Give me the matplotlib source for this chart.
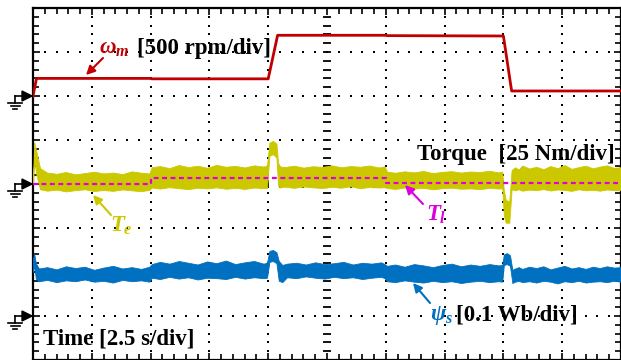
import numpy as np
import matplotlib
matplotlib.use("Agg")
import matplotlib.pyplot as plt
from matplotlib.ticker import MultipleLocator
from matplotlib.lines import Line2D
from matplotlib.patches import Polygon, FancyArrowPatch

plt.rcParams['font.family'] = ['Liberation Serif', 'DejaVu Serif']
plt.rcParams['mathtext.fontset'] = 'custom'
plt.rcParams['mathtext.it'] = 'Liberation Serif:italic:bold'
plt.rcParams['mathtext.rm'] = 'Liberation Serif:bold'
plt.rcParams['mathtext.bf'] = 'Liberation Serif:bold'

# ---------------- data (physical units) ----------------
time_per_div = 2.5        # s/div
speed_per_div = 500.0     # rpm/div
torque_per_div = 25.0     # Nm/div
flux_per_div = 0.1        # Wb/div
speed_ground = 6          # division of channel ground markers
torque_ground = 4
flux_ground = 1

# rotor speed omega_m (rpm)
w_t = [0.0, 0.15, 5.0, 5.05, 10.0, 10.4, 15.0, 15.05, 20.0, 20.35, 25.0]
w_val = [0, 200, 200, 195, 195, 690, 690, 686, 682, 57, 57]

# load torque T_l (Nm)
tl_t = [0.0, 5.0, 5.0, 15.0, 15.0, 25.0]
tl_val = [0.0, 0.0, 3.6, 3.6, 0.7, 0.7]

# electromagnetic torque T_e envelope (Nm)
te_t = [0.0, 0.05, 0.15, 0.3, 0.6, 1.0, 1.4, 1.8, 2.2, 2.6, 3.0, 3.4, 3.8, 4.2, 4.6, 4.95,
        5.05, 5.4, 5.8, 6.2, 6.6, 7.0, 7.4, 7.8, 8.2, 8.6, 9.0, 9.4, 9.8, 9.95,
        10.05, 10.2, 10.35, 10.42, 10.5, 10.7, 11.1, 11.5, 11.9, 12.3, 12.7, 13.1, 13.5, 13.9, 14.3, 14.7, 14.95,
        15.05, 15.4, 15.8, 16.2, 16.6, 17.0, 17.4, 17.8, 18.2, 18.6, 19.0, 19.4, 19.8, 19.95,
        20.02, 20.1, 20.25, 20.35, 20.5, 20.65, 20.8, 21.1, 21.4, 21.7, 22.0, 22.3, 22.6, 22.9, 23.2, 23.5,
        23.8, 24.1, 24.4, 24.7, 25.0]
te_hi = [3, 24, 18, 9, 6.5, 5.8, 6.8, 5.5, 6.2, 7.0, 6.0, 6.5, 5.6, 7.2, 6.4, 6.0,
         9.5, 10.2, 9.0, 10.8, 9.6, 10.4, 9.2, 10.9, 9.8, 10.3, 9.4, 10.6, 9.9, 10.5,
         23.5, 24.5, 23.0, 12, 10.0, 9.6, 10.4, 9.3, 10.1, 9.7, 10.6, 9.5, 10.2, 9.8, 10.5, 9.4, 10.0,
         7.0, 6.4, 7.2, 6.6, 7.4, 6.2, 6.9, 7.3, 6.5, 7.1, 6.8, 7.5, 6.6, 7.0,
         -4, -9, -10, 8, 9.5, 8.2, 10.5, 8.8, 9.8, 8.4, 10.2, 9.0, 10.8, 8.6, 9.6,
         10.4, 8.9, 9.9, 10.6, 9.2, 9.5]
te_lo = [0, 14, 5, -3.0, -3.8, -3.2, -4.2, -3.5, -3.0, -4.0, -3.4, -3.9, -3.1, -3.6, -4.1, -3.3,
         -2.0, -2.6, -1.8, -2.4, -2.9, -2.1, -2.5, -1.9, -2.7, -2.2, -2.8, -2.0, -2.4, -2.3,
         16, 17, 15, -1.0, -2.0, -1.5, -2.2, -1.4, -1.9, -2.3, -1.6, -2.1, -1.3, -2.4, -1.7, -2.0, -1.8,
         -2.3, -2.8, -2.0, -2.6, -2.2, -3.0, -2.4, -2.1, -2.7, -2.5, -2.9, -2.2, -2.6, -2.4,
         -18, -22, -22, -3.0, -3.6, -3.0, -3.8, -3.2, -3.5, -2.9, -3.7, -3.1, -3.4, -3.9, -3.0,
         -3.6, -3.3, -3.8, -3.1, -3.5, -3.4]

# stator flux psi_s envelope (Wb)
psi_t = [0.0, 0.05, 0.12, 0.25, 0.6, 1.0, 1.4, 1.8, 2.2, 2.6, 3.0, 3.4, 3.8, 4.2, 4.6, 4.95,
         5.05, 5.4, 5.8, 6.2, 6.6, 7.0, 7.4, 7.8, 8.2, 8.6, 9.0, 9.4, 9.8, 9.95,
         10.05, 10.2, 10.35, 10.45, 10.6, 10.8, 11.2, 11.6, 12.0, 12.4, 12.8, 13.2, 13.6, 14.0, 14.4, 14.8, 14.95,
         15.05, 15.4, 15.8, 16.2, 16.6, 17.0, 17.4, 17.8, 18.2, 18.6, 19.0, 19.4, 19.8, 19.95,
         20.02, 20.15, 20.28, 20.38, 20.5, 20.65, 20.8, 21.1, 21.4, 21.7, 22.0, 22.3, 22.6, 22.9, 23.2, 23.5,
         23.8, 24.1, 24.4, 24.7, 25.0]
psi_hi = [0.13, 0.142, 0.12, 0.108, 0.111, 0.106, 0.113, 0.109, 0.112, 0.105, 0.110, 0.114, 0.108, 0.111, 0.107, 0.112,
          0.118, 0.123, 0.119, 0.125, 0.121, 0.117, 0.124, 0.120, 0.126, 0.118, 0.122, 0.125, 0.119, 0.121,
          0.148, 0.150, 0.145, 0.125, 0.116, 0.119, 0.121, 0.117, 0.122, 0.118, 0.120, 0.123, 0.117, 0.121, 0.119, 0.122, 0.118,
          0.114, 0.117, 0.112, 0.118, 0.115, 0.111, 0.116, 0.119, 0.113, 0.117, 0.114, 0.118, 0.115, 0.116,
          0.140, 0.143, 0.138, 0.105, 0.108, 0.111, 0.107, 0.112, 0.109, 0.113, 0.106, 0.110, 0.114, 0.108, 0.111,
          0.107, 0.112, 0.109, 0.113, 0.110, 0.111]
psi_lo = [0.10, 0.115, 0.085, 0.079, 0.082, 0.077, 0.081, 0.079, 0.083, 0.078, 0.080, 0.076, 0.082, 0.079, 0.081, 0.078,
          0.087, 0.084, 0.089, 0.085, 0.088, 0.083, 0.087, 0.086, 0.084, 0.089, 0.085, 0.088, 0.086, 0.087,
          0.123, 0.125, 0.120, 0.080, 0.077, 0.088, 0.086, 0.090, 0.087, 0.085, 0.089, 0.086, 0.088, 0.084, 0.087, 0.089, 0.086,
          0.079, 0.077, 0.081, 0.078, 0.076, 0.080, 0.077, 0.079, 0.075, 0.078, 0.080, 0.077, 0.079, 0.078,
          0.116, 0.118, 0.114, 0.075, 0.078, 0.080, 0.077, 0.079, 0.076, 0.080, 0.078, 0.074, 0.079, 0.077, 0.080,
          0.076, 0.078, 0.079, 0.077, 0.080, 0.078]

RED = '#C00000'
YEL = '#CCC800'
MAG = '#DD00DD'
BLUE = '#0070C0'

# ---------------- figure ----------------
W, H = 621, 360
fig = plt.figure(figsize=(W / 100, H / 100), dpi=100)
ax = fig.add_axes([33 / W, 0.0, (W - 33) / W, (H - 8) / H])
n_xdiv, n_ydiv = 10, 8
xmax = n_xdiv * time_per_div
ax.set_xlim(0, xmax)
ax.set_ylim(0, n_ydiv)

def to_div(vals, scale, ground):
    return ground + np.asarray(vals, dtype=float) / scale

# grid dots
xs_dots = np.arange(0, xmax + 1e-9, time_per_div / 5)
for j in range(1, n_ydiv):
    if j == n_ydiv // 2:
        continue
    ax.plot(xs_dots, np.full_like(xs_dots, j), ls='none', marker='s', ms=1.5,
            color='black', mew=0, zorder=1)
ys_dots = np.arange(0, n_ydiv + 1e-9, 0.2)
for i in range(1, n_xdiv):
    if i == n_xdiv // 2:
        continue
    ax.plot(np.full_like(ys_dots, i * time_per_div), ys_dots, ls='none', marker='s', ms=1.5,
            color='black', mew=0, zorder=1)
# centre cross ticks
ax.plot(xs_dots, np.full_like(xs_dots, n_ydiv / 2), ls='none', marker='|', ms=6,
        mew=1.3, color='black', zorder=1)
ax.plot(np.full_like(ys_dots, xmax / 2), ys_dots, ls='none', marker='_', ms=6,
        mew=1.3, color='black', zorder=1)

# traces
ax.fill_between(psi_t, to_div(psi_lo, flux_per_div, flux_ground),
                to_div(psi_hi, flux_per_div, flux_ground), color=BLUE, lw=0.6, zorder=3)
ax.fill_between(te_t, to_div(te_lo, torque_per_div, torque_ground),
                to_div(te_hi, torque_per_div, torque_ground), color=YEL, lw=0.6, zorder=3)
ax.plot(tl_t, to_div(tl_val, torque_per_div, torque_ground), color=MAG, lw=1.6,
        ls=(0, (2.2, 1.6)), zorder=4)
ax.plot(w_t, to_div(w_val, speed_per_div, speed_ground), color=RED, lw=2.0, zorder=4)

# frame and ticks
for s in ax.spines.values():
    s.set_linewidth(1.6)
ax.xaxis.set_major_locator(MultipleLocator(time_per_div))
ax.xaxis.set_minor_locator(MultipleLocator(time_per_div / 5))
ax.yaxis.set_major_locator(MultipleLocator(1))
ax.yaxis.set_minor_locator(MultipleLocator(0.2))
ax.tick_params(which='both', direction='in', top=True, right=True,
               labelbottom=False, labelleft=False, width=1.2)
ax.tick_params(which='major', length=5)
ax.tick_params(which='minor', length=4)

# ground markers (figure pixel coordinates)
def px(x, y):
    return x / W, 1 - y / H

def ground_marker(y):
    kw = dict(transform=fig.transFigure, color='black', lw=1.2, clip_on=False)
    xa, ya = px(15, y); xb, yb = px(23, y)
    fig.add_artist(Line2D([xa, xb], [ya, yb], **kw))
    xc, yc = px(15, y + 7)
    fig.add_artist(Line2D([xa, xc], [ya, yc], **kw))
    for dy, half in ((7, 7), (10, 4.5), (13, 2)):
        x1, y1 = px(15 - half, y + dy); x2, y2 = px(15 + half, y + dy)
        fig.add_artist(Line2D([x1, x2], [y1, y2], **kw))
    tri = Polygon([px(22, y - 5), px(22, y + 5), px(32, y)], closed=True,
                  transform=fig.transFigure, color='black', clip_on=False)
    fig.add_artist(tri)

for g in (speed_ground, torque_ground, flux_ground):
    ground_marker(H - 44 * g)

# labels
FS = 16.5
def ftext(x, y, s, color='black', **kw):
    fig.text(x / W, 1 - y / H, s, color=color, fontsize=FS, fontweight='bold',
             va='baseline', **kw)

ftext(99, 54, r'$\omega_m$', color=RED)
ftext(137, 54, '[500 rpm/div]')
ftext(615, 160, 'Torque  [25 Nm/div]', ha='right')
ftext(110, 232, r'$T_e$', color=YEL)
ftext(426, 221, r'$T_l$', color=MAG)
ftext(430, 320, r'$\psi_s$', color=BLUE)
ftext(456, 320, '[0.1 Wb/div]')
ftext(43, 345, 'Time [2.5 s/div]')

def farrow(tail, tip, color):
    fig.add_artist(FancyArrowPatch(
        px(*tail), px(*tip), transform=fig.transFigure, arrowstyle='-|>',
        mutation_scale=13, lw=1.5, color=color, shrinkA=0, shrinkB=0))

farrow((103, 58), (86, 75), RED)
farrow((111, 215), (93, 195), YEL)
farrow((423, 204), (405, 185), MAG)
farrow((430, 303), (413, 283), BLUE)

fig.savefig('out.png', dpi=100)
